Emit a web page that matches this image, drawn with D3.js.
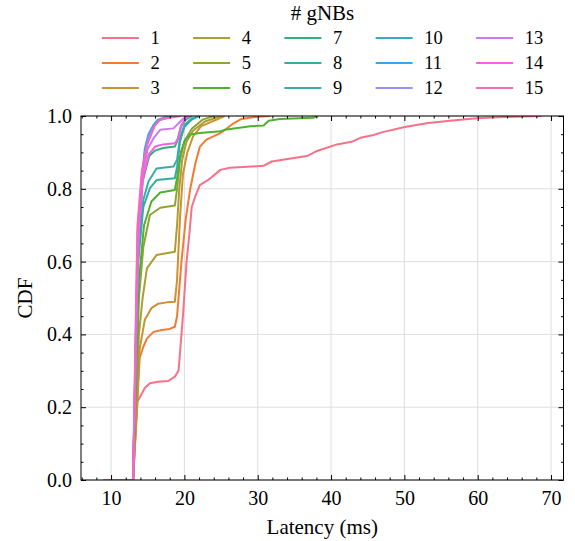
<!DOCTYPE html>
<html>
<head>
<meta charset="utf-8">
<script src="https://cdn.jsdelivr.net/npm/d3@7"></script>
<style>
	body { margin: 0; background: #fff; }
	svg { display: block; font-family: "Liberation Serif", "Times New Roman", serif; }
</style>
</head>
<body>
<div id="container"></div>
<script>
// Chart dimensions and margins.
const width = 575;
const height = 541;
const marginTop = 116;
const marginRight = 11.5;
const marginBottom = 61;
const marginLeft = 81;

// Number of gNBs, one curve each.
const gnbs = [1, 2, 3, 4, 5, 6, 7, 8, 9, 10, 11, 12, 13, 14, 15];

// CDF points [latency (ms), cdf].
const g1 = [[8.9,0],[13,0],[13.6,0.215],[14.6,0.253],[15.3,0.266],[16.4,0.27],[17.8,0.272],[18.7,0.284],[19.2,0.3],[19.8,0.45],[20.3,0.6],[20.7,0.68],[21,0.75],[21.5,0.78],[22.1,0.81],[23.3,0.825],[24.9,0.852],[26.2,0.858],[30.8,0.863],[31.9,0.875],[36.7,0.89],[38.1,0.904],[40.8,0.922],[42.8,0.929],[44,0.94],[45.8,0.948],[46.9,0.955],[49.9,0.969],[53,0.98],[56.2,0.987],[59.9,0.994],[63.5,0.997],[68.7,1]];
const g2 = [[13,0],[13.9,0.335],[14.4,0.366],[14.9,0.389],[15.8,0.407],[16.9,0.412],[18,0.415],[18.7,0.421],[19,0.45],[19.6,0.6],[20.2,0.72],[20.8,0.8],[21.5,0.87],[22.1,0.915],[23,0.935],[24.6,0.95],[25.3,0.958],[26.7,0.98],[27.8,0.992],[29.6,0.997],[31.7,1]];
const g3 = [[13,0],[13.9,0.36],[14.6,0.44],[15.5,0.472],[16.4,0.484],[17.6,0.488],[18.7,0.49],[19,0.55],[19.4,0.72],[19.8,0.84],[20.4,0.9],[21.2,0.945],[22.3,0.972],[24.4,0.99],[25.5,1]];
const g4 = [[13,0],[13.8,0.4],[14.3,0.5],[14.9,0.582],[16.2,0.618],[18.7,0.627],[19,0.7],[19.3,0.8],[19.7,0.88],[20.3,0.93],[21.2,0.96],[22.8,0.985],[25,1]];
const g5 = [[13,0],[13.8,0.5],[14.4,0.64],[15.3,0.728],[16.7,0.748],[18.7,0.754],[19,0.8],[19.4,0.88],[20,0.93],[21,0.965],[22.5,0.99],[24,1]];
const g6 = [[13,0],[13.8,0.55],[14.5,0.7],[15.5,0.765],[16.7,0.79],[18.7,0.797],[19,0.83],[19.5,0.9],[20.1,0.935],[20.8,0.949],[22.1,0.953],[24.9,0.958],[25.5,0.962],[29,0.972],[30.8,0.974],[31.5,0.987],[33,0.992],[37.6,0.995],[38.1,1]];
const g7 = [[13,0],[13.7,0.65],[14.3,0.82],[15.2,0.89],[16,0.905],[17.1,0.912],[18.7,0.916],[19,0.93],[19.5,0.97],[20.2,0.99],[21,1]];
const g8 = [[13,0],[13.7,0.6],[14.4,0.75],[15.3,0.802],[16.2,0.824],[18.7,0.829],[19,0.86],[19.4,0.93],[20,0.97],[21,0.99],[22,1]];
const g9 = [[13,0],[13.7,0.62],[14.4,0.77],[15.1,0.82],[16.2,0.856],[18.5,0.861],[19,0.88],[19.4,0.94],[20,0.975],[21,0.993],[22,1]];
const g10 = [[13,0],[13.5,0.5],[13.8,0.7],[14.2,0.81],[14.6,0.9],[15.1,0.945],[15.8,0.972],[16.4,0.988],[18,0.998],[18.6,1]];
const g11 = [[13,0],[13.5,0.52],[13.8,0.72],[14.2,0.83],[14.6,0.91],[15.1,0.95],[15.8,0.976],[16.4,0.99],[17.6,0.998],[18.2,1]];
const g12 = [[13,0],[13.5,0.48],[13.8,0.69],[14.2,0.8],[14.6,0.89],[15.1,0.94],[15.8,0.97],[16.6,0.988],[18,0.997],[18.8,1]];
const g13 = [[13,0],[13.6,0.68],[14.2,0.83],[15,0.91],[15.8,0.939],[16.7,0.962],[18.5,0.966],[19.2,0.98],[19.9,0.994],[20.5,1]];
const g14 = [[13,0],[13.7,0.66],[14.3,0.82],[15.1,0.893],[16,0.916],[17.1,0.922],[18.7,0.925],[19.2,0.939],[19.6,0.975],[20.2,0.995],[20.8,1]];
const g15 = [[13,0],[13.6,0.7],[14.2,0.85],[14.9,0.92],[16,0.975],[16.7,0.99],[18,0.995],[19.5,1]];
const series = [g1, g2, g3, g4, g5, g6, g7, g8, g9, g10, g11, g12, g13, g14, g15];

// Ticks.
const xTicks = [10, 20, 30, 40, 50, 60, 70];
const xMinor = d3.range(6, 72, 2).filter(d => d % 10 !== 0);
const yTicks = [0, 0.2, 0.4, 0.6, 0.8, 1.0];
const yMinor = d3.range(0.05, 1, 0.05).filter(d => Math.abs(d * 5 - Math.round(d * 5)) > 1e-6);

// seaborn "husl" palette
const M = [[3.2406, -1.5372, -0.4986], [-0.9689, 1.8758, 0.0415], [0.0557, -0.2040, 1.0570]];
var maxChroma = function(L, H) {
	let hr = H * Math.PI / 180, sinH = Math.sin(hr), cosH = Math.cos(hr);
	let sub1 = Math.pow(L + 16, 3) / 1560896;
	let sub2 = sub1 > 0.008856 ? sub1 : L / 903.3;
	let result = Infinity;
	M.forEach(([m1, m2, m3]) => {
		let top = (0.99915 * m1 + 1.05122 * m2 + 1.14460 * m3) * sub2;
		let rbottom = 0.86330 * m3 - 0.17266 * m2;
		let lbottom = 0.12949 * m3 - 0.38848 * m1;
		let bottom = (rbottom * sinH + lbottom * cosH) * sub2;
		[0, 1].forEach(t => {
			let C = L * (top - 1.05122 * t) / (bottom + 0.17266 * sinH * t);
			if (C > 0 && C < result) result = C;
		});
	});
	return result;
}
var husl = function(H, S, L) {
	let C = maxChroma(L, H) / 100 * S;
	let hr = H * Math.PI / 180;
	let U = Math.cos(hr) * C, V = Math.sin(hr) * C;
	let t = (L + 16) / 116;
	let Y = Math.pow(t, 3) > 0.008856 ? Math.pow(t, 3) : L / 903.3;
	let varU = U / (13 * L) + 0.19784;
	let varV = V / (13 * L) + 0.46834;
	let X = -(9 * Y * varU) / ((varU - 4) * varV - varU * varV);
	let Z = (9 * Y - 15 * varV * Y - varV * X) / (3 * varV);
	let rgb = M.map(r => r[0] * X + r[1] * Y + r[2] * Z)
		.map(c => c <= 0.0031308 ? 12.92 * c : 1.055 * Math.pow(c, 1 / 2.4) - 0.055)
		.map(c => Math.max(0, Math.min(1, c)) * 255);
	return d3.rgb(rgb[0], rgb[1], rgb[2]).formatHex();
}
const colors = gnbs.map((d, i) => husl(((i / gnbs.length + 0.01) % 1) * 359, 0.9 * 99, 0.65 * 99));

// Scales.
const x = d3.scaleLinear()
	.domain([5.9, 71.7])
	.range([marginLeft, width - marginRight]);

const y = d3.scaleLinear()
	.domain([0, 1])
	.range([height - marginBottom, marginTop]);

const svg = d3.select("#container").append("svg")
	.attr("width", width)
	.attr("height", height);

// Grid
svg.append("g")
	.selectAll("line")
	.data(xTicks)
	.join("line")
		.attr("x1", d => x(d)).attr("x2", d => x(d))
		.attr("y1", y(0)).attr("y2", y(1))
		.attr("stroke", "#dedede")
		.attr("stroke-width", 1);

svg.append("g")
	.selectAll("line")
	.data(yTicks)
	.join("line")
		.attr("x1", x.range()[0]).attr("x2", x.range()[1])
		.attr("y1", d => y(d)).attr("y2", d => y(d))
		.attr("stroke", "#dedede")
		.attr("stroke-width", 1);

// Curves
svg.append("clipPath").attr("id", "plotclip")
	.append("rect")
		.attr("x", x.range()[0]).attr("y", y(1))
		.attr("width", x.range()[1] - x.range()[0])
		.attr("height", y(0) - y(1));

const line = d3.line().x(d => x(d[0])).y(d => y(d[1]));

svg.append("g")
	.attr("clip-path", "url(#plotclip)")
	.selectAll("path")
	.data(series)
	.join("path")
		.attr("fill", "none")
		.attr("stroke", (d, i) => colors[i])
		.attr("stroke-width", 2)
		.attr("stroke-linejoin", "round")
		.attr("d", line);

// Axes, ticks pointing inward
const fontFamily = '"Liberation Serif", "Times New Roman", serif';
const tickFont = 20, labelFont = 21;

svg.append("g")
	.attr("transform", `translate(0,${y(0)})`)
	.call(d3.axisBottom(x).tickValues(xTicks).tickSize(-5).tickPadding(11).tickFormat(d3.format("d")))
	.attr("font-size", tickFont).attr("font-family", fontFamily)
	.call(g => g.select(".domain").remove());

svg.append("g")
	.attr("transform", `translate(0,${y(0)})`)
	.call(d3.axisBottom(x).tickValues(xMinor).tickSize(-2.5).tickFormat(""))
	.call(g => g.select(".domain").remove());

svg.append("g")
	.attr("transform", `translate(0,${y(1)})`)
	.call(d3.axisTop(x).tickValues(xTicks).tickSize(-5).tickFormat(""))
	.call(g => g.select(".domain").remove());

svg.append("g")
	.attr("transform", `translate(0,${y(1)})`)
	.call(d3.axisTop(x).tickValues(xMinor).tickSize(-2.5).tickFormat(""))
	.call(g => g.select(".domain").remove());

svg.append("g")
	.attr("transform", `translate(${x.range()[0]},0)`)
	.call(d3.axisLeft(y).tickValues(yTicks).tickSize(-5).tickPadding(9).tickFormat(d3.format(".1f")))
	.attr("font-size", tickFont).attr("font-family", fontFamily)
	.call(g => g.select(".domain").remove());

svg.append("g")
	.attr("transform", `translate(${x.range()[0]},0)`)
	.call(d3.axisLeft(y).tickValues(yMinor).tickSize(-2.5).tickFormat(""))
	.call(g => g.select(".domain").remove());

svg.append("g")
	.attr("transform", `translate(${x.range()[1]},0)`)
	.call(d3.axisRight(y).tickValues(yTicks).tickSize(-5).tickFormat(""))
	.call(g => g.select(".domain").remove());

svg.append("g")
	.attr("transform", `translate(${x.range()[1]},0)`)
	.call(d3.axisRight(y).tickValues(yMinor).tickSize(-2.5).tickFormat(""))
	.call(g => g.select(".domain").remove());

// Frame
svg.append("rect")
	.attr("x", x.range()[0]).attr("y", y(1))
	.attr("width", x.range()[1] - x.range()[0])
	.attr("height", y(0) - y(1))
	.attr("fill", "none")
	.attr("stroke", "#000")
	.attr("stroke-width", 1);

// Axis labels
svg.append("text")
	.attr("x", (x.range()[0] + x.range()[1]) / 2)
	.attr("y", 534)
	.attr("text-anchor", "middle")
	.attr("font-size", labelFont)
	.text("Latency (ms)");

svg.append("text")
	.attr("transform", `translate(32,${(y(0) + y(1)) / 2}) rotate(-90)`)
	.attr("text-anchor", "middle")
	.attr("font-size", labelFont)
	.text("CDF");

// Legend: 5 columns, filled column by column
const ncol = 5, nrow = 3;
const handle = 37, handlePad = 11.5, colSpacing = 33.5, rowStep = 25;
const legend = svg.append("g");

legend.append("text")
	.attr("x", 322.5)
	.attr("y", 20)
	.attr("text-anchor", "middle")
	.attr("font-size", labelFont)
	.text("# gNBs");

const items = legend.selectAll("g.item")
	.data(gnbs)
	.join("g")
		.attr("class", "item");

items.append("line")
	.attr("x1", 0).attr("x2", handle)
	.attr("stroke", (d, i) => colors[i])
	.attr("stroke-width", 2);

items.append("text")
	.attr("x", handle + handlePad)
	.attr("dy", "0.33em")
	.attr("font-size", 18.5)
	.text(d => d);

const labelW = [];
items.select("text").each(function(d, i) {
	let c = Math.floor(i / nrow);
	labelW[c] = Math.max(labelW[c] || 0, this.getComputedTextLength());
});
const colW = labelW.map(w => handle + handlePad + w + colSpacing);
const colX = [0];
colW.forEach((w, i) => colX.push(colX[i] + w));
const legendW = colX[ncol] - colSpacing;
const legendX0 = 322.5 - legendW / 2;

items.attr("transform", (d, i) => {
	let c = Math.floor(i / nrow), r = i % nrow;
	return `translate(${legendX0 + colX[c]},${38 + r * rowStep})`;
});
</script>
</body>
</html>
